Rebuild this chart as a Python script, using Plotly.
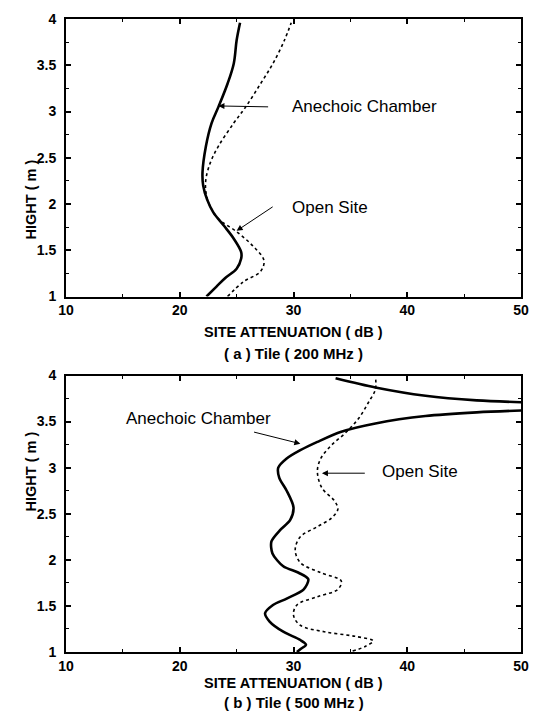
import plotly.graph_objects as go
from plotly.subplots import make_subplots

# ---- data (height in m, site attenuation in dB) ----
a_anech_h = [1.00, 1.11, 1.20, 1.30, 1.41, 1.48, 1.625, 1.77, 1.91, 2.05, 2.20, 2.34, 2.625, 2.875, 3.05, 3.30, 3.52, 3.77, 3.96]
a_anech_db = [22.35, 23.25, 24.0, 25.0, 25.4, 25.4, 24.75, 23.85, 22.95, 22.4, 22.06, 22.0, 22.3, 22.8, 23.4, 24.2, 24.75, 25.0, 25.3]

a_open_h = [1.00, 1.16, 1.27, 1.39, 1.55, 1.70, 1.84, 1.98, 2.13, 2.27, 2.45, 2.625, 2.875, 3.05, 3.30, 3.52, 3.77, 3.96]
a_open_db = [24.2, 25.6, 27.1, 27.4, 26.4, 25.0, 23.4, 22.65, 22.3, 22.3, 22.7, 23.4, 24.75, 25.8, 27.1, 28.2, 29.2, 29.8]

b_anech_h = [1.00, 1.03, 1.08, 1.13, 1.22, 1.33, 1.42, 1.51, 1.58, 1.68, 1.79, 1.86, 1.93, 2.07, 2.20, 2.32, 2.43,
             2.57, 2.75, 2.89, 3.00, 3.10, 3.19, 3.28, 3.39, 3.48, 3.56, 3.60, 3.62, 3.645, 3.665, 3.69, 3.71, 3.73,
             3.78, 3.87, 3.97]
b_anech_db = [30.3, 30.6, 31.1, 30.6, 29.1, 27.9, 27.5, 28.2, 29.4, 30.9, 31.3, 30.45, 29.1, 28.15, 28.06, 28.8, 29.7,
              30.0, 29.4, 28.75, 28.66, 29.4, 30.6, 32.1, 34.2, 37.2, 41.6, 46.1, 50.0, 58.0, 65.0, 58.0, 50.0, 46.1,
              41.6, 37.2, 33.7]

b_open_h = [1.01, 1.06, 1.12, 1.17, 1.22, 1.29, 1.40, 1.51, 1.60, 1.68, 1.77, 1.86, 1.97, 2.11, 2.25, 2.36, 2.46, 2.55,
            2.64, 2.78, 2.96, 3.10, 3.24, 3.37, 3.53, 3.71, 3.85, 3.99]
b_open_db = [35.2, 36.3, 37.0, 35.4, 32.7, 30.6, 30.0, 30.3, 32.1, 33.9, 34.2, 32.4, 30.6, 30.15, 30.6, 32.1, 33.4, 33.9,
             33.6, 32.5, 32.1, 32.4, 33.3, 34.5, 35.7, 36.6, 37.2, 37.2]

x_ticks = [10, 20, 30, 40, 50]
y_ticks = [1, 1.5, 2, 2.5, 3, 3.5, 4]
y_tick_text = ["1", "1.5", "2", "2.5", "3", "3.5", "4"]

FONT = "Liberation Sans, Arial, sans-serif"

fig = make_subplots(rows=2, cols=1, vertical_spacing=0.0)

fig.add_trace(go.Scatter(x=a_anech_db, y=a_anech_h, mode="lines", line=dict(color="black", width=2.6, shape="spline"),
                         showlegend=False), row=1, col=1)
fig.add_trace(go.Scatter(x=a_open_db, y=a_open_h, mode="lines", line=dict(color="black", width=1.6, dash="dot", shape="spline"),
                         showlegend=False), row=1, col=1)
fig.add_trace(go.Scatter(x=b_anech_db, y=b_anech_h, mode="lines", line=dict(color="black", width=2.6, shape="spline", smoothing=0.8),
                         showlegend=False), row=2, col=1)
fig.add_trace(go.Scatter(x=b_open_db, y=b_open_h, mode="lines", line=dict(color="black", width=1.6, dash="dot", shape="spline"),
                         showlegend=False), row=2, col=1)

axis_common = dict(showgrid=False, zeroline=False, showline=True, linecolor="black", linewidth=2,
                   mirror="ticks", ticks="inside", ticklen=5, tickwidth=1.5, tickcolor="black",
                   tickfont=dict(family=FONT, size=14, color="black", weight="bold"))

for r, dom in [(1, [0.5616, 1.0]), (2, [0.0, 0.4368])]:
    fig.update_xaxes(range=[10, 50], tickvals=x_ticks, ticktext=[str(v) for v in x_ticks],
                     minor=dict(dtick=5, tick0=10, ticks="inside", ticklen=3, tickcolor="black", tickwidth=1),
                     row=r, col=1, **axis_common)
    fig.update_yaxes(range=[1, 4], domain=dom, tickvals=y_ticks, ticktext=y_tick_text, ticklabelstandoff=5,
                     minor=dict(dtick=0.25, tick0=1, ticks="inside", ticklen=3, tickcolor="black", tickwidth=1),
                     row=r, col=1, **axis_common)

ann_font = dict(family=FONT, size=17, color="black")
bold_font = dict(family=FONT, size=14.5, color="black", weight="bold")
cap_font = dict(family=FONT, size=15, color="black", weight="bold")

annotations = [
    # top panel labels with arrows
    dict(xref="x", yref="y", x=29.7, y=3.05, text="Anechoic Chamber", showarrow=False, xanchor="left", yanchor="middle", font=ann_font),
    dict(xref="x", yref="y", x=23.4, y=3.06, ax=27.9, ay=3.05, axref="x", ayref="y", text="", showarrow=True,
         arrowhead=2, arrowsize=1.2, arrowwidth=1, arrowcolor="black"),
    dict(xref="x", yref="y", x=29.7, y=1.96, text="Open Site", showarrow=False, xanchor="left", yanchor="middle", font=ann_font),
    dict(xref="x", yref="y", x=25.0, y=1.71, ax=28.3, ay=1.98, axref="x", ayref="y", text="", showarrow=True,
         arrowhead=2, arrowsize=1.2, arrowwidth=1, arrowcolor="black"),
    # bottom panel labels with arrows
    dict(xref="x2", yref="y2", x=15.1, y=3.53, text="Anechoic Chamber", showarrow=False, xanchor="left", yanchor="middle", font=ann_font),
    dict(xref="x2", yref="y2", x=30.6, y=3.26, ax=26.4, ay=3.39, axref="x2", ayref="y2", text="", showarrow=True,
         arrowhead=2, arrowsize=1.2, arrowwidth=1, arrowcolor="black"),
    dict(xref="x2", yref="y2", x=37.6, y=2.96, text="Open Site", showarrow=False, xanchor="left", yanchor="middle", font=ann_font),
    dict(xref="x2", yref="y2", x=32.5, y=2.94, ax=36.4, ay=2.94, axref="x2", ayref="y2", text="", showarrow=True,
         arrowhead=2, arrowsize=1.2, arrowwidth=1, arrowcolor="black"),
    # axis titles and captions
    dict(xref="paper", yref="paper", x=0.5, y=0.5055, text="SITE ATTENUATION ( dB )", showarrow=False, font=bold_font),
    dict(xref="paper", yref="paper", x=0.5, y=0.4711, text="( a ) Tile ( 200 MHz )", showarrow=False, font=cap_font),
    dict(xref="paper", yref="paper", x=0.5, y=-0.0655, text="SITE ATTENUATION ( dB )", showarrow=False, font=bold_font),
    dict(xref="paper", yref="paper", x=0.5, y=-0.0967, text="( b ) Tile ( 500 MHz )", showarrow=False, font=cap_font),
    dict(xref="paper", yref="paper", x=-0.0996, y=0.7808, text="HIGHT ( m )", textangle=-90, showarrow=False, font=bold_font),
    dict(xref="paper", yref="paper", x=-0.0996, y=0.2184, text="HIGHT ( m )", textangle=-90, showarrow=False, font=bold_font),
]
fig.update_layout(annotations=annotations)

fig.update_layout(width=540, height=722, margin=dict(l=66, r=12, t=11, b=70),
                  plot_bgcolor="white", paper_bgcolor="white", showlegend=False)

fig.write_html("out.html", config={"displayModeBar": False},
               post_script="document.body.style.margin='0px';document.body.style.overflow='hidden';")
